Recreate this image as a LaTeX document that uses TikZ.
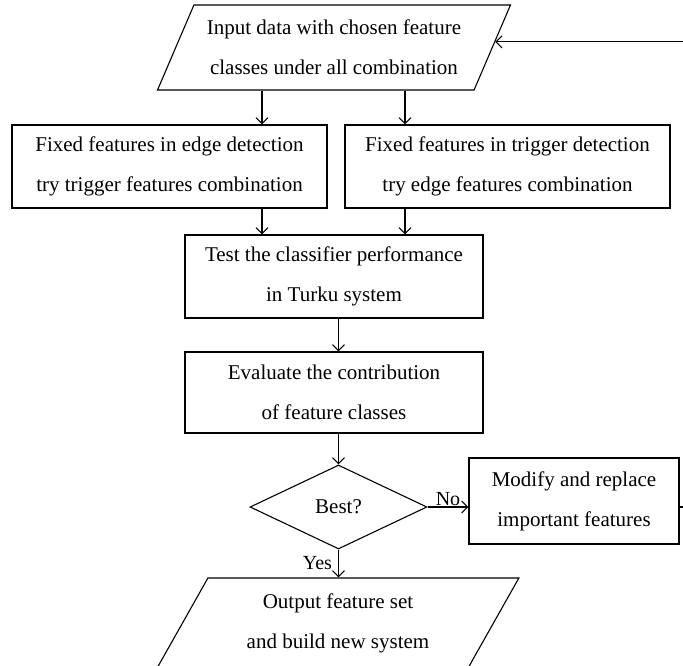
\documentclass[tikz,border=0pt]{standalone}
\usepackage{fontspec}
\setmainfont{Liberation Serif}
\usetikzlibrary{shapes.geometric,arrows.meta}
\begin{document}
\begin{tikzpicture}[x=1pt,y=-1pt,
  every node/.style={font=\fontsize{21}{40}\selectfont, align=center, inner sep=0pt},
  box/.style={draw, rectangle, line width=1.1pt},
  para/.style={draw, trapezium, trapezium left angle=59, trapezium right angle=121,
    trapezium stretches=true, line width=1.1pt},
  dec/.style={draw, diamond, line width=1.1pt},
  arr/.style={line width=1.1pt, -{Straight Barb[length=6pt,width=12pt]}},
  ln/.style={line width=1.1pt},
  lbl/.style={font=\fontsize{20}{24}\selectfont}]
\useasboundingbox (0,0) rectangle (683,666);
\clip (0,0) rectangle (683,666);

\node[para, minimum width=354pt, minimum height=85pt] (in) at (334,47.5)
  {Input data with chosen feature\\classes under all combination};
\node[box, minimum width=315pt, minimum height=83pt] (fl) at (169.5,166.5)
  {Fixed features in edge detection\\try trigger features combination};
\node[box, minimum width=325pt, minimum height=83pt] (fr) at (507.5,166.5)
  {Fixed features in trigger detection\\try edge features combination};
\node[box, minimum width=298pt, minimum height=83pt] (test) at (334,276.5)
  {Test the classifier performance\\in Turku system};
\node[box, minimum width=298pt, minimum height=81pt] (eval) at (334,392.5)
  {Evaluate the contribution\\of feature classes};
\node[dec, minimum width=177pt, minimum height=84pt] (best) at (338.5,507) {Best?};
\node[box, minimum width=210pt, minimum height=86pt] (mod) at (574,501)
  {Modify and replace\\important features};
\node[para, minimum width=362pt, minimum height=90pt] (out) at (338,623)
  {Output feature set\\and build new system};

\coordinate (xl) at (262,0);
\coordinate (xr) at (405,0);
\coordinate (xc) at (338.5,0);
\coordinate (c1) at (700,507);

\draw[arr] (xl |- in.south) -- (xl |- fl.north);
\draw[arr] (xr |- in.south) -- (xr |- fr.north);
\draw[arr] (xl |- fl.south) -- (xl |- test.north);
\draw[arr] (xr |- fr.south) -- (xr |- test.north);
\draw[arr] (xc |- test.south) -- (xc |- eval.north);
\draw[arr] (xc |- eval.south) -- (best.north);
\draw[arr] (best.east) -- (best.east -| mod.west) node[lbl, midway, above, yshift=1pt] (no) {No};
\draw[arr] (best.south) -- (best.south |- out.north) node[lbl, midway, left, xshift=-6pt] (yes) {Yes};
\draw[ln] (best.east -| mod.east) -- (c1) -- (c1 |- in.2);
\draw[arr] (c1 |- in.2) -- (in.2);
\end{tikzpicture}
\end{document}
